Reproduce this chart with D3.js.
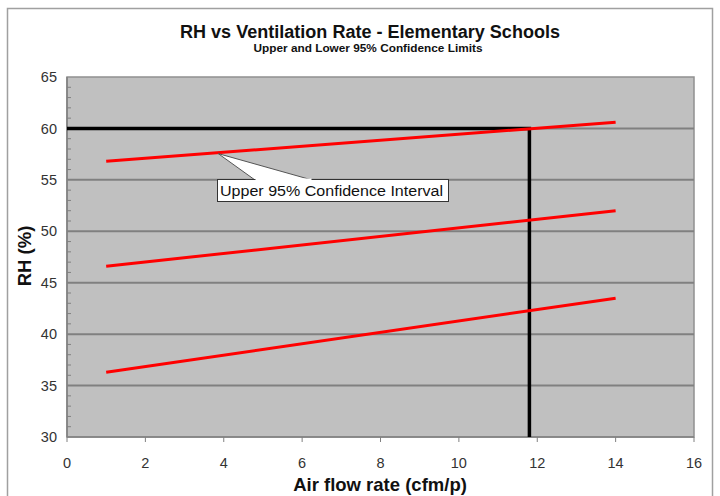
<!DOCTYPE html>
<html>
<head>
<meta charset="utf-8">
<script src="https://cdn.jsdelivr.net/npm/d3@7"></script>
<style>
  body { margin: 0; background: #fff; }
  text { font-family: Arial, "Liberation Sans", sans-serif; }
</style>
</head>
<body>
<div id="chart"></div>
<script>

WIDTH = 720;
HEIGHT = 496;

// data
var x_ticks = [0, 2, 4, 6, 8, 10, 12, 14, 16];
var y_ticks = [30, 35, 40, 45, 50, 55, 60, 65];

var upper_line = [[1, 56.8], [14, 60.6]];
var middle_line = [[1, 46.6], [14, 52.0]];
var lower_line = [[1, 36.3], [14, 43.5]];

// the 60% RH limit and the rate where it meets the upper band
var limit_path = [[0, 60], [11.8, 60], [11.8, 30]];

var callout_point = [3.86, 57.55];
var callout_text = "Upper 95% Confidence Interval";


var margin = { left: 67, right: 26, top: 77, bottom: 59 };

var svg = d3.select("#chart").append("svg")
    .attr("width", WIDTH)
    .attr("height", HEIGHT);

// outer chart frame
svg.append("rect")
    .attr("x", 7.5).attr("y", 8.5)
    .attr("width", 705).attr("height", 500)
    .attr("fill", "white")
    .attr("stroke", "#a0a0a0")
    .attr("stroke-width", 1.5);

var x = d3.scaleLinear().domain([0, 16]).range([margin.left, WIDTH - margin.right]);
var y = d3.scaleLinear().domain([30, 65]).range([HEIGHT - margin.bottom, margin.top]);

// plot area
svg.append("rect")
    .attr("x", x(0)).attr("y", y(65))
    .attr("width", x(16) - x(0)).attr("height", y(30) - y(65))
    .attr("fill", "#c0c0c0")
    .attr("stroke", "#909090")
    .attr("stroke-width", 1.5);

// gridlines
svg.append("g")
    .selectAll("line")
    .data(y_ticks.filter(function (d) { return d > 30 && d < 65; }))
    .enter().append("line")
    .attr("x1", x(0)).attr("x2", x(16))
    .attr("y1", function (d) { return y(d); })
    .attr("y2", function (d) { return y(d); })
    .attr("stroke", "#808080")
    .attr("stroke-width", 2);

// y axis with minor ticks inside
var yaxis = svg.append("g")
    .attr("transform", "translate(" + x(0) + ",0)");

yaxis.append("line")
    .attr("x1", 0).attr("x2", 0)
    .attr("y1", y(30)).attr("y2", y(65))
    .attr("stroke", "#808080").attr("stroke-width", 1.5);

yaxis.selectAll("line.minor")
    .data(d3.range(31, 65).filter(function (d) { return d % 5 != 0; }))
    .enter().append("line")
    .attr("class", "minor")
    .attr("x1", 0).attr("x2", 4)
    .attr("y1", function (d) { return y(d); })
    .attr("y2", function (d) { return y(d); })
    .attr("stroke", "#808080").attr("stroke-width", 1);

yaxis.selectAll("text")
    .data(y_ticks)
    .enter().append("text")
    .attr("x", -10)
    .attr("y", function (d) { return y(d); })
    .attr("dy", "0.35em")
    .attr("text-anchor", "end")
    .attr("font-size", 14.5)
    .attr("fill", "#333")
    .text(function (d) { return d; });

// x axis
var xaxis = svg.append("g")
    .attr("transform", "translate(0," + y(30) + ")");

xaxis.append("line")
    .attr("x1", x(0)).attr("x2", x(16))
    .attr("stroke", "#808080").attr("stroke-width", 1.5);

xaxis.selectAll("line.tick")
    .data(x_ticks)
    .enter().append("line")
    .attr("class", "tick")
    .attr("x1", function (d) { return x(d); })
    .attr("x2", function (d) { return x(d); })
    .attr("y1", 0).attr("y2", 5)
    .attr("stroke", "#808080").attr("stroke-width", 1);

xaxis.selectAll("text")
    .data(x_ticks)
    .enter().append("text")
    .attr("x", function (d) { return x(d); })
    .attr("y", 31)
    .attr("text-anchor", "middle")
    .attr("font-size", 14.5)
    .attr("fill", "#333")
    .text(function (d) { return d; });

// lines
var line = d3.line()
    .x(function (d) { return x(d[0]); })
    .y(function (d) { return y(d[1]); });

svg.append("path")
    .datum(limit_path)
    .attr("d", line)
    .attr("fill", "none")
    .attr("stroke", "black")
    .attr("stroke-width", 3.5);

[upper_line, middle_line, lower_line].forEach(function (d) {
    svg.append("path")
        .datum(d)
        .attr("d", line)
        .attr("fill", "none")
        .attr("stroke", "#ff0000")
        .attr("stroke-width", 3);
});

// callout
var bx = 217, by = 179, bw = 231, bh = 22;
var tip = [x(callout_point[0]), y(callout_point[1])];

var callout = svg.append("g");
callout.append("path")
    .attr("d", "M" + (bx + 38) + "," + (by + 1) + "L" + tip[0] + "," + tip[1] +
               "L" + (bx + 95) + "," + (by + 1))
    .attr("fill", "white")
    .attr("stroke", "#555")
    .attr("stroke-width", 1);
callout.append("rect")
    .attr("x", bx + 0.5).attr("y", by + 0.5)
    .attr("width", bw).attr("height", bh)
    .attr("fill", "white")
    .attr("stroke", "#333")
    .attr("stroke-width", 1);
callout.append("rect")
    .attr("x", bx + 38.5).attr("y", by - 0.5)
    .attr("width", 56).attr("height", 2.5)
    .attr("fill", "white");
callout.append("text")
    .attr("x", bx + 3)
    .attr("y", by + 17)
    .attr("font-size", 15.5)
    .attr("textLength", 223)
    .attr("lengthAdjust", "spacingAndGlyphs")
    .attr("fill", "#111")
    .text(callout_text);

// titles
svg.append("text")
    .attr("x", 370).attr("y", 38)
    .attr("text-anchor", "middle")
    .attr("font-size", 18)
    .attr("font-weight", "bold")
    .attr("textLength", 380)
    .attr("lengthAdjust", "spacingAndGlyphs")
    .attr("fill", "#111")
    .text("RH vs Ventilation Rate - Elementary Schools");

svg.append("text")
    .attr("x", 368).attr("y", 52)
    .attr("text-anchor", "middle")
    .attr("font-size", 11)
    .attr("font-weight", "bold")
    .attr("textLength", 229)
    .attr("lengthAdjust", "spacingAndGlyphs")
    .attr("fill", "#111")
    .text("Upper and Lower 95% Confidence Limits");

svg.append("text")
    .attr("transform", "translate(31," + 256 + ") rotate(-90)")
    .attr("text-anchor", "middle")
    .attr("font-size", 18.5)
    .attr("font-weight", "bold")
    .attr("fill", "#111")
    .text("RH (%)");

svg.append("text")
    .attr("x", 380).attr("y", 491)
    .attr("text-anchor", "middle")
    .attr("font-size", 18.5)
    .attr("font-weight", "bold")
    .attr("fill", "#111")
    .text("Air flow rate (cfm/p)");

</script>
</body>
</html>
